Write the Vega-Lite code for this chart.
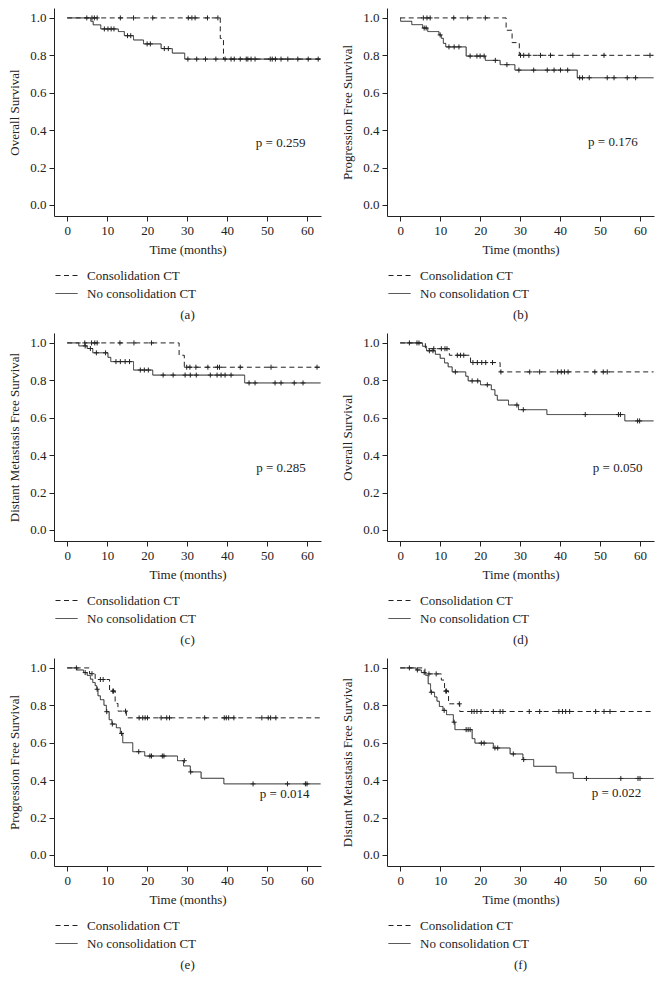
{
"$schema": "https://vega.github.io/schema/vega-lite/v6.json",
"padding": {"left": 8, "top": 8, "right": 4, "bottom": 4},
"background": "white",
"columns": 2,
"spacing": {"column": 18, "row": 11},
"resolve": {"scale": {"strokeDash": "independent"}, "legend": {"strokeDash": "independent"}},
"datasets": {
"steps": [
{"panel":"a","g":"Consolidation CT","t":0,"s":1},{"panel":"a","g":"Consolidation CT","t":38.3,"s":0.89},{"panel":"a","g":"Consolidation CT","t":39.1,"s":0.78},{"panel":"a","g":"Consolidation CT","t":63.4,"s":0.78},
{"panel":"a","g":"No consolidation CT","t":0,"s":1},{"panel":"a","g":"No consolidation CT","t":5.9,"s":0.982},{"panel":"a","g":"No consolidation CT","t":6.5,"s":0.963},{"panel":"a","g":"No consolidation CT","t":8.4,"s":0.941},{"panel":"a","g":"No consolidation CT","t":12.8,"s":0.927},{"panel":"a","g":"No consolidation CT","t":14.3,"s":0.905},{"panel":"a","g":"No consolidation CT","t":16.6,"s":0.882},{"panel":"a","g":"No consolidation CT","t":19.1,"s":0.861},{"panel":"a","g":"No consolidation CT","t":23.5,"s":0.836},{"panel":"a","g":"No consolidation CT","t":26.3,"s":0.812},{"panel":"a","g":"No consolidation CT","t":29.4,"s":0.78},{"panel":"a","g":"No consolidation CT","t":63.4,"s":0.78},
{"panel":"b","g":"Consolidation CT","t":0,"s":1},{"panel":"b","g":"Consolidation CT","t":26.5,"s":0.934},{"panel":"b","g":"Consolidation CT","t":28.0,"s":0.868},{"panel":"b","g":"Consolidation CT","t":29.8,"s":0.8},{"panel":"b","g":"Consolidation CT","t":63.4,"s":0.8},
{"panel":"b","g":"No consolidation CT","t":0,"s":1},{"panel":"b","g":"No consolidation CT","t":0.1,"s":0.982},{"panel":"b","g":"No consolidation CT","t":2.9,"s":0.964},{"panel":"b","g":"No consolidation CT","t":5.6,"s":0.946},{"panel":"b","g":"No consolidation CT","t":6.9,"s":0.927},{"panel":"b","g":"No consolidation CT","t":9.7,"s":0.909},{"panel":"b","g":"No consolidation CT","t":10.3,"s":0.891},{"panel":"b","g":"No consolidation CT","t":10.8,"s":0.864},{"panel":"b","g":"No consolidation CT","t":11.4,"s":0.845},{"panel":"b","g":"No consolidation CT","t":16.5,"s":0.796},{"panel":"b","g":"No consolidation CT","t":21.3,"s":0.773},{"panel":"b","g":"No consolidation CT","t":25.0,"s":0.75},{"panel":"b","g":"No consolidation CT","t":28.7,"s":0.721},{"panel":"b","g":"No consolidation CT","t":44.3,"s":0.68},{"panel":"b","g":"No consolidation CT","t":63.4,"s":0.68},
{"panel":"c","g":"Consolidation CT","t":0,"s":1},{"panel":"c","g":"Consolidation CT","t":28.0,"s":0.934},{"panel":"c","g":"Consolidation CT","t":29.3,"s":0.87},{"panel":"c","g":"Consolidation CT","t":63.4,"s":0.87},
{"panel":"c","g":"No consolidation CT","t":0,"s":1},{"panel":"c","g":"No consolidation CT","t":2.9,"s":0.984},{"panel":"c","g":"No consolidation CT","t":5.0,"s":0.97},{"panel":"c","g":"No consolidation CT","t":6.4,"s":0.947},{"panel":"c","g":"No consolidation CT","t":10.2,"s":0.923},{"panel":"c","g":"No consolidation CT","t":10.9,"s":0.9},{"panel":"c","g":"No consolidation CT","t":16.6,"s":0.855},{"panel":"c","g":"No consolidation CT","t":21.4,"s":0.828},{"panel":"c","g":"No consolidation CT","t":44.4,"s":0.786},{"panel":"c","g":"No consolidation CT","t":63.4,"s":0.786},
{"panel":"d","g":"Consolidation CT","t":0,"s":1},{"panel":"d","g":"Consolidation CT","t":6.3,"s":0.969},{"panel":"d","g":"Consolidation CT","t":12.3,"s":0.934},{"panel":"d","g":"Consolidation CT","t":17.6,"s":0.895},{"panel":"d","g":"Consolidation CT","t":25.0,"s":0.845},{"panel":"d","g":"Consolidation CT","t":63.4,"s":0.845},
{"panel":"d","g":"No consolidation CT","t":0,"s":1},{"panel":"d","g":"No consolidation CT","t":5.6,"s":0.982},{"panel":"d","g":"No consolidation CT","t":6.6,"s":0.958},{"panel":"d","g":"No consolidation CT","t":8.8,"s":0.939},{"panel":"d","g":"No consolidation CT","t":10.0,"s":0.918},{"panel":"d","g":"No consolidation CT","t":11.1,"s":0.893},{"panel":"d","g":"No consolidation CT","t":12.0,"s":0.872},{"panel":"d","g":"No consolidation CT","t":13.0,"s":0.845},{"panel":"d","g":"No consolidation CT","t":16.4,"s":0.822},{"panel":"d","g":"No consolidation CT","t":17.0,"s":0.797},{"panel":"d","g":"No consolidation CT","t":20.1,"s":0.776},{"panel":"d","g":"No consolidation CT","t":22.8,"s":0.75},{"panel":"d","g":"No consolidation CT","t":23.7,"s":0.72},{"panel":"d","g":"No consolidation CT","t":24.3,"s":0.694},{"panel":"d","g":"No consolidation CT","t":27.1,"s":0.668},{"panel":"d","g":"No consolidation CT","t":29.6,"s":0.643},{"panel":"d","g":"No consolidation CT","t":36.7,"s":0.617},{"panel":"d","g":"No consolidation CT","t":56.2,"s":0.583},{"panel":"d","g":"No consolidation CT","t":63.4,"s":0.583},
{"panel":"e","g":"Consolidation CT","t":0,"s":1},{"panel":"e","g":"Consolidation CT","t":5.6,"s":0.969},{"panel":"e","g":"Consolidation CT","t":7.0,"s":0.938},{"panel":"e","g":"Consolidation CT","t":10.6,"s":0.876},{"panel":"e","g":"Consolidation CT","t":12.0,"s":0.81},{"panel":"e","g":"Consolidation CT","t":12.7,"s":0.769},{"panel":"e","g":"Consolidation CT","t":14.8,"s":0.733},{"panel":"e","g":"Consolidation CT","t":63.4,"s":0.733},
{"panel":"e","g":"No consolidation CT","t":0,"s":1},{"panel":"e","g":"No consolidation CT","t":2.4,"s":0.989},{"panel":"e","g":"No consolidation CT","t":4.1,"s":0.975},{"panel":"e","g":"No consolidation CT","t":5.0,"s":0.96},{"panel":"e","g":"No consolidation CT","t":5.8,"s":0.94},{"panel":"e","g":"No consolidation CT","t":6.4,"s":0.922},{"panel":"e","g":"No consolidation CT","t":7.0,"s":0.905},{"panel":"e","g":"No consolidation CT","t":7.4,"s":0.886},{"panel":"e","g":"No consolidation CT","t":7.7,"s":0.851},{"panel":"e","g":"No consolidation CT","t":8.3,"s":0.83},{"panel":"e","g":"No consolidation CT","t":9.2,"s":0.8},{"panel":"e","g":"No consolidation CT","t":9.8,"s":0.766},{"panel":"e","g":"No consolidation CT","t":10.5,"s":0.723},{"panel":"e","g":"No consolidation CT","t":11.2,"s":0.7},{"panel":"e","g":"No consolidation CT","t":12.3,"s":0.68},{"panel":"e","g":"No consolidation CT","t":13.3,"s":0.65},{"panel":"e","g":"No consolidation CT","t":13.9,"s":0.6},{"panel":"e","g":"No consolidation CT","t":16.4,"s":0.552},{"panel":"e","g":"No consolidation CT","t":19.4,"s":0.529},{"panel":"e","g":"No consolidation CT","t":27.6,"s":0.504},{"panel":"e","g":"No consolidation CT","t":29.1,"s":0.476},{"panel":"e","g":"No consolidation CT","t":30.8,"s":0.444},{"panel":"e","g":"No consolidation CT","t":33.5,"s":0.41},{"panel":"e","g":"No consolidation CT","t":39.2,"s":0.38},{"panel":"e","g":"No consolidation CT","t":63.4,"s":0.38},
{"panel":"f","g":"Consolidation CT","t":0,"s":1},{"panel":"f","g":"Consolidation CT","t":6.2,"s":0.968},{"panel":"f","g":"Consolidation CT","t":10.3,"s":0.935},{"panel":"f","g":"Consolidation CT","t":11.1,"s":0.876},{"panel":"f","g":"Consolidation CT","t":12.1,"s":0.808},{"panel":"f","g":"Consolidation CT","t":14.9,"s":0.767},{"panel":"f","g":"Consolidation CT","t":63.4,"s":0.767},
{"panel":"f","g":"No consolidation CT","t":0,"s":1},{"panel":"f","g":"No consolidation CT","t":4.0,"s":0.989},{"panel":"f","g":"No consolidation CT","t":5.3,"s":0.975},{"panel":"f","g":"No consolidation CT","t":6.4,"s":0.96},{"panel":"f","g":"No consolidation CT","t":7.0,"s":0.915},{"panel":"f","g":"No consolidation CT","t":7.6,"s":0.87},{"panel":"f","g":"No consolidation CT","t":8.6,"s":0.845},{"panel":"f","g":"No consolidation CT","t":9.2,"s":0.822},{"panel":"f","g":"No consolidation CT","t":9.8,"s":0.794},{"panel":"f","g":"No consolidation CT","t":10.7,"s":0.773},{"panel":"f","g":"No consolidation CT","t":11.6,"s":0.75},{"panel":"f","g":"No consolidation CT","t":13.3,"s":0.71},{"panel":"f","g":"No consolidation CT","t":13.7,"s":0.67},{"panel":"f","g":"No consolidation CT","t":18.0,"s":0.622},{"panel":"f","g":"No consolidation CT","t":18.7,"s":0.598},{"panel":"f","g":"No consolidation CT","t":23.3,"s":0.572},{"panel":"f","g":"No consolidation CT","t":27.5,"s":0.54},{"panel":"f","g":"No consolidation CT","t":30.7,"s":0.51},{"panel":"f","g":"No consolidation CT","t":33.4,"s":0.474},{"panel":"f","g":"No consolidation CT","t":39.0,"s":0.439},{"panel":"f","g":"No consolidation CT","t":43.3,"s":0.409},{"panel":"f","g":"No consolidation CT","t":63.4,"s":0.409}
],
"cens": [
{"panel":"a","t":4.9,"s":1},{"panel":"a","t":6.2,"s":1},{"panel":"a","t":6.8,"s":1},{"panel":"a","t":7.5,"s":1},{"panel":"a","t":13.3,"s":1},{"panel":"a","t":16.6,"s":1},{"panel":"a","t":21.4,"s":1},{"panel":"a","t":30.3,"s":1},{"panel":"a","t":31.2,"s":1},{"panel":"a","t":32.0,"s":1},{"panel":"a","t":35.1,"s":1},{"panel":"a","t":37.7,"s":1},
{"panel":"a","t":41.0,"s":0.78},{"panel":"a","t":45.2,"s":0.78},{"panel":"a","t":50.8,"s":0.78},{"panel":"a","t":62.8,"s":0.78},
{"panel":"a","t":9.3,"s":0.941},{"panel":"a","t":10.2,"s":0.941},{"panel":"a","t":11.0,"s":0.941},{"panel":"a","t":11.7,"s":0.941},{"panel":"a","t":15.1,"s":0.905},{"panel":"a","t":15.9,"s":0.905},{"panel":"a","t":20.0,"s":0.861},{"panel":"a","t":20.8,"s":0.861},{"panel":"a","t":24.3,"s":0.836},{"panel":"a","t":25.3,"s":0.836},
{"panel":"a","t":30.2,"s":0.78},{"panel":"a","t":32.4,"s":0.78},{"panel":"a","t":34.6,"s":0.78},{"panel":"a","t":37.2,"s":0.78},{"panel":"a","t":39.5,"s":0.78},{"panel":"a","t":41.8,"s":0.78},{"panel":"a","t":43.3,"s":0.78},{"panel":"a","t":44.8,"s":0.78},{"panel":"a","t":46.0,"s":0.78},{"panel":"a","t":47.0,"s":0.78},{"panel":"a","t":51.3,"s":0.78},{"panel":"a","t":52.1,"s":0.78},{"panel":"a","t":53.5,"s":0.78},{"panel":"a","t":55.2,"s":0.78},{"panel":"a","t":57.7,"s":0.78},{"panel":"a","t":60.3,"s":0.78},
{"panel":"b","t":5.8,"s":1},{"panel":"b","t":6.7,"s":1},{"panel":"b","t":7.5,"s":1},{"panel":"b","t":13.4,"s":1},{"panel":"b","t":16.9,"s":1},{"panel":"b","t":21.3,"s":1},
{"panel":"b","t":30.1,"s":0.8},{"panel":"b","t":30.9,"s":0.8},{"panel":"b","t":32.2,"s":0.8},{"panel":"b","t":35.1,"s":0.8},{"panel":"b","t":37.6,"s":0.8},{"panel":"b","t":43.2,"s":0.8},{"panel":"b","t":51.0,"s":0.8},{"panel":"b","t":62.5,"s":0.8},
{"panel":"b","t":6.0,"s":0.946},{"panel":"b","t":6.5,"s":0.946},{"panel":"b","t":10.0,"s":0.909},{"panel":"b","t":12.2,"s":0.845},{"panel":"b","t":13.5,"s":0.845},{"panel":"b","t":14.7,"s":0.845},{"panel":"b","t":17.5,"s":0.796},{"panel":"b","t":19.2,"s":0.796},{"panel":"b","t":20.0,"s":0.796},{"panel":"b","t":21.0,"s":0.796},{"panel":"b","t":23.8,"s":0.773},{"panel":"b","t":26.7,"s":0.75},
{"panel":"b","t":29.7,"s":0.721},{"panel":"b","t":33.4,"s":0.721},{"panel":"b","t":36.8,"s":0.721},{"panel":"b","t":38.5,"s":0.721},{"panel":"b","t":40.1,"s":0.721},{"panel":"b","t":41.9,"s":0.721},
{"panel":"b","t":44.9,"s":0.68},{"panel":"b","t":45.6,"s":0.68},{"panel":"b","t":47.3,"s":0.68},{"panel":"b","t":51.8,"s":0.68},{"panel":"b","t":53.5,"s":0.68},{"panel":"b","t":56.8,"s":0.68},{"panel":"b","t":58.9,"s":0.68},
{"panel":"c","t":4.4,"s":1},{"panel":"c","t":6.1,"s":1},{"panel":"c","t":6.9,"s":1},{"panel":"c","t":7.5,"s":1},{"panel":"c","t":13.2,"s":1},{"panel":"c","t":16.7,"s":1},{"panel":"c","t":21.1,"s":1},
{"panel":"c","t":29.9,"s":0.87},{"panel":"c","t":30.7,"s":0.87},{"panel":"c","t":32.2,"s":0.87},{"panel":"c","t":35.2,"s":0.87},{"panel":"c","t":37.6,"s":0.87},{"panel":"c","t":38.1,"s":0.87},{"panel":"c","t":43.3,"s":0.87},{"panel":"c","t":51.0,"s":0.87},{"panel":"c","t":62.5,"s":0.87},
{"panel":"c","t":4.5,"s":0.984},{"panel":"c","t":5.8,"s":0.97},{"panel":"c","t":7.3,"s":0.947},{"panel":"c","t":9.6,"s":0.947},{"panel":"c","t":12.2,"s":0.9},{"panel":"c","t":13.3,"s":0.9},{"panel":"c","t":14.5,"s":0.9},{"panel":"c","t":15.6,"s":0.9},{"panel":"c","t":18.3,"s":0.855},{"panel":"c","t":19.3,"s":0.855},{"panel":"c","t":20.3,"s":0.855},
{"panel":"c","t":24.0,"s":0.828},{"panel":"c","t":26.5,"s":0.828},{"panel":"c","t":29.5,"s":0.828},{"panel":"c","t":30.8,"s":0.828},{"panel":"c","t":32.3,"s":0.828},{"panel":"c","t":35.8,"s":0.828},{"panel":"c","t":37.5,"s":0.828},{"panel":"c","t":38.5,"s":0.828},{"panel":"c","t":39.5,"s":0.828},{"panel":"c","t":41.0,"s":0.828},
{"panel":"c","t":45.5,"s":0.786},{"panel":"c","t":47.0,"s":0.786},{"panel":"c","t":52.0,"s":0.786},{"panel":"c","t":53.5,"s":0.786},{"panel":"c","t":56.8,"s":0.786},{"panel":"c","t":59.0,"s":0.786},
{"panel":"d","t":8.4,"s":0.969},{"panel":"d","t":10.3,"s":0.969},{"panel":"d","t":11.2,"s":0.969},{"panel":"d","t":11.7,"s":0.969},{"panel":"d","t":14.3,"s":0.934},{"panel":"d","t":15.1,"s":0.934},{"panel":"d","t":15.9,"s":0.934},
{"panel":"d","t":18.2,"s":0.895},{"panel":"d","t":19.3,"s":0.895},{"panel":"d","t":20.4,"s":0.895},{"panel":"d","t":21.4,"s":0.895},{"panel":"d","t":23.1,"s":0.895},
{"panel":"d","t":25.2,"s":0.845},{"panel":"d","t":32.4,"s":0.845},{"panel":"d","t":34.9,"s":0.845},{"panel":"d","t":39.4,"s":0.845},{"panel":"d","t":40.3,"s":0.845},{"panel":"d","t":41.1,"s":0.845},{"panel":"d","t":42.0,"s":0.845},{"panel":"d","t":48.7,"s":0.845},{"panel":"d","t":50.8,"s":0.845},{"panel":"d","t":51.8,"s":0.845},
{"panel":"d","t":2.3,"s":1},{"panel":"d","t":4.2,"s":1},{"panel":"d","t":4.7,"s":1},{"panel":"d","t":7.3,"s":0.958},{"panel":"d","t":8.2,"s":0.958},{"panel":"d","t":13.8,"s":0.845},{"panel":"d","t":18.0,"s":0.797},{"panel":"d","t":19.4,"s":0.797},{"panel":"d","t":21.8,"s":0.776},{"panel":"d","t":29.2,"s":0.668},{"panel":"d","t":30.8,"s":0.643},{"panel":"d","t":46.3,"s":0.617},{"panel":"d","t":54.6,"s":0.617},{"panel":"d","t":55.1,"s":0.617},{"panel":"d","t":59.4,"s":0.583},{"panel":"d","t":59.9,"s":0.583},
{"panel":"e","t":6.2,"s":0.969},{"panel":"e","t":8.3,"s":0.938},{"panel":"e","t":9.0,"s":0.938},{"panel":"e","t":11.4,"s":0.876},{"panel":"e","t":11.6,"s":0.876},{"panel":"e","t":14.6,"s":0.769},
{"panel":"e","t":18.0,"s":0.733},{"panel":"e","t":18.9,"s":0.733},{"panel":"e","t":19.5,"s":0.733},{"panel":"e","t":20.1,"s":0.733},{"panel":"e","t":23.5,"s":0.733},{"panel":"e","t":24.9,"s":0.733},{"panel":"e","t":25.6,"s":0.733},{"panel":"e","t":34.4,"s":0.733},{"panel":"e","t":39.3,"s":0.733},{"panel":"e","t":39.8,"s":0.733},{"panel":"e","t":40.4,"s":0.733},{"panel":"e","t":41.7,"s":0.733},{"panel":"e","t":48.7,"s":0.733},{"panel":"e","t":50.3,"s":0.733},{"panel":"e","t":50.9,"s":0.733},{"panel":"e","t":52.2,"s":0.733},
{"panel":"e","t":2.3,"s":1},{"panel":"e","t":4.5,"s":0.975},{"panel":"e","t":7.5,"s":0.886},{"panel":"e","t":9.9,"s":0.766},{"panel":"e","t":11.3,"s":0.7},{"panel":"e","t":13.6,"s":0.65},{"panel":"e","t":17.9,"s":0.552},{"panel":"e","t":20.7,"s":0.529},{"panel":"e","t":21.1,"s":0.529},{"panel":"e","t":23.8,"s":0.529},{"panel":"e","t":24.2,"s":0.529},{"panel":"e","t":29.3,"s":0.504},{"panel":"e","t":30.9,"s":0.444},{"panel":"e","t":46.5,"s":0.38},{"panel":"e","t":55.1,"s":0.38},{"panel":"e","t":59.6,"s":0.38},{"panel":"e","t":60.0,"s":0.38},
{"panel":"f","t":7.2,"s":0.968},{"panel":"f","t":9.0,"s":0.968},{"panel":"f","t":11.4,"s":0.876},{"panel":"f","t":11.6,"s":0.876},{"panel":"f","t":14.8,"s":0.808},
{"panel":"f","t":17.9,"s":0.767},{"panel":"f","t":18.5,"s":0.767},{"panel":"f","t":19.2,"s":0.767},{"panel":"f","t":20.2,"s":0.767},{"panel":"f","t":23.3,"s":0.767},{"panel":"f","t":25.0,"s":0.767},{"panel":"f","t":25.7,"s":0.767},{"panel":"f","t":32.3,"s":0.767},{"panel":"f","t":34.9,"s":0.767},{"panel":"f","t":39.7,"s":0.767},{"panel":"f","t":40.6,"s":0.767},{"panel":"f","t":41.4,"s":0.767},{"panel":"f","t":42.4,"s":0.767},{"panel":"f","t":48.9,"s":0.767},{"panel":"f","t":51.0,"s":0.767},{"panel":"f","t":52.5,"s":0.767},
{"panel":"f","t":2.3,"s":1},{"panel":"f","t":4.3,"s":0.989},{"panel":"f","t":6.0,"s":0.975},{"panel":"f","t":7.8,"s":0.87},{"panel":"f","t":11.0,"s":0.773},{"panel":"f","t":13.5,"s":0.71},{"panel":"f","t":16.5,"s":0.67},{"panel":"f","t":17.0,"s":0.67},{"panel":"f","t":17.5,"s":0.67},{"panel":"f","t":20.3,"s":0.598},{"panel":"f","t":21.0,"s":0.598},{"panel":"f","t":23.7,"s":0.572},{"panel":"f","t":24.4,"s":0.572},{"panel":"f","t":28.3,"s":0.54},{"panel":"f","t":30.9,"s":0.51},{"panel":"f","t":46.6,"s":0.409},{"panel":"f","t":55.2,"s":0.409},{"panel":"f","t":59.5,"s":0.409},{"panel":"f","t":60.0,"s":0.409}
],
"pv": [
{"panel":"a","label":"p = 0.259","t":47.2,"s":0.33},
{"panel":"b","label":"p = 0.176","t":47.0,"s":0.334},
{"panel":"c","label":"p = 0.285","t":47.3,"s":0.332},
{"panel":"d","label":"p = 0.050","t":48.2,"s":0.332},
{"panel":"e","label":"p = 0.014","t":48.2,"s":0.325},
{"panel":"f","label":"p = 0.022","t":47.9,"s":0.329}
]
},
"concat": [
{"width": 267, "height": 208,
 "title": {"text": "(a)", "orient": "bottom", "frame": "group", "anchor": "middle", "offset": 8, "baseline": "top", "fontSize": 13, "font": "Liberation Serif", "fontWeight": "normal", "color": "#222"},
 "layer": [
  {"data": {"name": "steps"}, "transform": [{"filter": "datum.panel == 'a'"}],
   "mark": {"type": "line", "interpolate": "step-after", "strokeWidth": 1, "color": "#222"},
   "encoding": {
    "x": {"field": "t", "type": "quantitative", "title": "Time (months)", "scale": {"domain": [-3.3, 63.5], "nice": false, "zero": false}, "axis": {"values": [0,10,20,30,40,50,60]}},
    "y": {"field": "s", "type": "quantitative", "title": "Overall Survival", "scale": {"domain": [-0.059, 1.053], "nice": false, "zero": false}, "axis": {"values": [0,0.2,0.4,0.6,0.8,1], "format": ".1f"}},
    "strokeDash": {"field": "g", "type": "nominal", "scale": {"domain": ["Consolidation CT", "No consolidation CT"], "range": [[5,3.5],[1,0]]},
      "legend": {"orient": "none", "legendX": 6, "legendY": 261, "title": null, "direction": "vertical", "symbolType": "M-2,0H2", "symbolSize": 121, "symbolStrokeColor": "#222", "symbolStrokeWidth": 1, "symbolFillColor": "transparent", "labelFont": "Liberation Serif", "labelFontSize": 13, "labelColor": "#222", "labelOffset": 14, "rowPadding": 4, "padding": 0, "labelLimit": 300}}
   }},
  {"data": {"name": "cens"}, "transform": [{"filter": "datum.panel == 'a'"}],
   "mark": {"type": "point", "shape": "M-1,0H1M0,-1V1", "size": 25, "strokeWidth": 1, "color": "#222", "filled": false, "opacity": 1},
   "encoding": {"x": {"field": "t", "type": "quantitative", "title": "Time (months)"}, "y": {"field": "s", "type": "quantitative", "title": "Overall Survival"}}},
  {"data": {"name": "pv"}, "transform": [{"filter": "datum.panel == 'a'"}],
   "mark": {"type": "text", "align": "left", "baseline": "middle", "font": "Liberation Serif", "fontSize": 13, "color": "#222"},
   "encoding": {"x": {"field": "t", "type": "quantitative", "title": "Time (months)"}, "y": {"field": "s", "type": "quantitative", "title": "Overall Survival"}, "text": {"field": "label"}}}
 ]},
{"width": 267, "height": 208,
 "title": {"text": "(b)", "orient": "bottom", "frame": "group", "anchor": "middle", "offset": 8, "baseline": "top", "fontSize": 13, "font": "Liberation Serif", "fontWeight": "normal", "color": "#222"},
 "layer": [
  {"data": {"name": "steps"}, "transform": [{"filter": "datum.panel == 'b'"}],
   "mark": {"type": "line", "interpolate": "step-after", "strokeWidth": 1, "color": "#222"},
   "encoding": {
    "x": {"field": "t", "type": "quantitative", "title": "Time (months)", "scale": {"domain": [-3.3, 63.5], "nice": false, "zero": false}, "axis": {"values": [0,10,20,30,40,50,60]}},
    "y": {"field": "s", "type": "quantitative", "title": "Progression Free Survival", "scale": {"domain": [-0.059, 1.053], "nice": false, "zero": false}, "axis": {"values": [0,0.2,0.4,0.6,0.8,1], "format": ".1f"}},
    "strokeDash": {"field": "g", "type": "nominal", "scale": {"domain": ["Consolidation CT", "No consolidation CT"], "range": [[5,3.5],[1,0]]},
      "legend": {"orient": "none", "legendX": 6, "legendY": 261, "title": null, "direction": "vertical", "symbolType": "M-2,0H2", "symbolSize": 121, "symbolStrokeColor": "#222", "symbolStrokeWidth": 1, "symbolFillColor": "transparent", "labelFont": "Liberation Serif", "labelFontSize": 13, "labelColor": "#222", "labelOffset": 14, "rowPadding": 4, "padding": 0, "labelLimit": 300}}
   }},
  {"data": {"name": "cens"}, "transform": [{"filter": "datum.panel == 'b'"}],
   "mark": {"type": "point", "shape": "M-1,0H1M0,-1V1", "size": 25, "strokeWidth": 1, "color": "#222", "filled": false, "opacity": 1},
   "encoding": {"x": {"field": "t", "type": "quantitative", "title": "Time (months)"}, "y": {"field": "s", "type": "quantitative", "title": "Progression Free Survival"}}},
  {"data": {"name": "pv"}, "transform": [{"filter": "datum.panel == 'b'"}],
   "mark": {"type": "text", "align": "left", "baseline": "middle", "font": "Liberation Serif", "fontSize": 13, "color": "#222"},
   "encoding": {"x": {"field": "t", "type": "quantitative", "title": "Time (months)"}, "y": {"field": "s", "type": "quantitative", "title": "Progression Free Survival"}, "text": {"field": "label"}}}
 ]},
{"width": 267, "height": 208,
 "title": {"text": "(c)", "orient": "bottom", "frame": "group", "anchor": "middle", "offset": 8, "baseline": "top", "fontSize": 13, "font": "Liberation Serif", "fontWeight": "normal", "color": "#222"},
 "layer": [
  {"data": {"name": "steps"}, "transform": [{"filter": "datum.panel == 'c'"}],
   "mark": {"type": "line", "interpolate": "step-after", "strokeWidth": 1, "color": "#222"},
   "encoding": {
    "x": {"field": "t", "type": "quantitative", "title": "Time (months)", "scale": {"domain": [-3.3, 63.5], "nice": false, "zero": false}, "axis": {"values": [0,10,20,30,40,50,60]}},
    "y": {"field": "s", "type": "quantitative", "title": "Distant Metastasis Free Survival", "scale": {"domain": [-0.059, 1.053], "nice": false, "zero": false}, "axis": {"values": [0,0.2,0.4,0.6,0.8,1], "format": ".1f"}},
    "strokeDash": {"field": "g", "type": "nominal", "scale": {"domain": ["Consolidation CT", "No consolidation CT"], "range": [[5,3.5],[1,0]]},
      "legend": {"orient": "none", "legendX": 6, "legendY": 261, "title": null, "direction": "vertical", "symbolType": "M-2,0H2", "symbolSize": 121, "symbolStrokeColor": "#222", "symbolStrokeWidth": 1, "symbolFillColor": "transparent", "labelFont": "Liberation Serif", "labelFontSize": 13, "labelColor": "#222", "labelOffset": 14, "rowPadding": 4, "padding": 0, "labelLimit": 300}}
   }},
  {"data": {"name": "cens"}, "transform": [{"filter": "datum.panel == 'c'"}],
   "mark": {"type": "point", "shape": "M-1,0H1M0,-1V1", "size": 25, "strokeWidth": 1, "color": "#222", "filled": false, "opacity": 1},
   "encoding": {"x": {"field": "t", "type": "quantitative", "title": "Time (months)"}, "y": {"field": "s", "type": "quantitative", "title": "Distant Metastasis Free Survival"}}},
  {"data": {"name": "pv"}, "transform": [{"filter": "datum.panel == 'c'"}],
   "mark": {"type": "text", "align": "left", "baseline": "middle", "font": "Liberation Serif", "fontSize": 13, "color": "#222"},
   "encoding": {"x": {"field": "t", "type": "quantitative", "title": "Time (months)"}, "y": {"field": "s", "type": "quantitative", "title": "Distant Metastasis Free Survival"}, "text": {"field": "label"}}}
 ]},
{"width": 267, "height": 208,
 "title": {"text": "(d)", "orient": "bottom", "frame": "group", "anchor": "middle", "offset": 8, "baseline": "top", "fontSize": 13, "font": "Liberation Serif", "fontWeight": "normal", "color": "#222"},
 "layer": [
  {"data": {"name": "steps"}, "transform": [{"filter": "datum.panel == 'd'"}],
   "mark": {"type": "line", "interpolate": "step-after", "strokeWidth": 1, "color": "#222"},
   "encoding": {
    "x": {"field": "t", "type": "quantitative", "title": "Time (months)", "scale": {"domain": [-3.3, 63.5], "nice": false, "zero": false}, "axis": {"values": [0,10,20,30,40,50,60]}},
    "y": {"field": "s", "type": "quantitative", "title": "Overall Survival", "scale": {"domain": [-0.059, 1.053], "nice": false, "zero": false}, "axis": {"values": [0,0.2,0.4,0.6,0.8,1], "format": ".1f"}},
    "strokeDash": {"field": "g", "type": "nominal", "scale": {"domain": ["Consolidation CT", "No consolidation CT"], "range": [[5,3.5],[1,0]]},
      "legend": {"orient": "none", "legendX": 6, "legendY": 261, "title": null, "direction": "vertical", "symbolType": "M-2,0H2", "symbolSize": 121, "symbolStrokeColor": "#222", "symbolStrokeWidth": 1, "symbolFillColor": "transparent", "labelFont": "Liberation Serif", "labelFontSize": 13, "labelColor": "#222", "labelOffset": 14, "rowPadding": 4, "padding": 0, "labelLimit": 300}}
   }},
  {"data": {"name": "cens"}, "transform": [{"filter": "datum.panel == 'd'"}],
   "mark": {"type": "point", "shape": "M-1,0H1M0,-1V1", "size": 25, "strokeWidth": 1, "color": "#222", "filled": false, "opacity": 1},
   "encoding": {"x": {"field": "t", "type": "quantitative", "title": "Time (months)"}, "y": {"field": "s", "type": "quantitative", "title": "Overall Survival"}}},
  {"data": {"name": "pv"}, "transform": [{"filter": "datum.panel == 'd'"}],
   "mark": {"type": "text", "align": "left", "baseline": "middle", "font": "Liberation Serif", "fontSize": 13, "color": "#222"},
   "encoding": {"x": {"field": "t", "type": "quantitative", "title": "Time (months)"}, "y": {"field": "s", "type": "quantitative", "title": "Overall Survival"}, "text": {"field": "label"}}}
 ]},
{"width": 267, "height": 208,
 "title": {"text": "(e)", "orient": "bottom", "frame": "group", "anchor": "middle", "offset": 8, "baseline": "top", "fontSize": 13, "font": "Liberation Serif", "fontWeight": "normal", "color": "#222"},
 "layer": [
  {"data": {"name": "steps"}, "transform": [{"filter": "datum.panel == 'e'"}],
   "mark": {"type": "line", "interpolate": "step-after", "strokeWidth": 1, "color": "#222"},
   "encoding": {
    "x": {"field": "t", "type": "quantitative", "title": "Time (months)", "scale": {"domain": [-3.3, 63.5], "nice": false, "zero": false}, "axis": {"values": [0,10,20,30,40,50,60]}},
    "y": {"field": "s", "type": "quantitative", "title": "Progression Free Survival", "scale": {"domain": [-0.059, 1.053], "nice": false, "zero": false}, "axis": {"values": [0,0.2,0.4,0.6,0.8,1], "format": ".1f"}},
    "strokeDash": {"field": "g", "type": "nominal", "scale": {"domain": ["Consolidation CT", "No consolidation CT"], "range": [[5,3.5],[1,0]]},
      "legend": {"orient": "none", "legendX": 6, "legendY": 261, "title": null, "direction": "vertical", "symbolType": "M-2,0H2", "symbolSize": 121, "symbolStrokeColor": "#222", "symbolStrokeWidth": 1, "symbolFillColor": "transparent", "labelFont": "Liberation Serif", "labelFontSize": 13, "labelColor": "#222", "labelOffset": 14, "rowPadding": 4, "padding": 0, "labelLimit": 300}}
   }},
  {"data": {"name": "cens"}, "transform": [{"filter": "datum.panel == 'e'"}],
   "mark": {"type": "point", "shape": "M-1,0H1M0,-1V1", "size": 25, "strokeWidth": 1, "color": "#222", "filled": false, "opacity": 1},
   "encoding": {"x": {"field": "t", "type": "quantitative", "title": "Time (months)"}, "y": {"field": "s", "type": "quantitative", "title": "Progression Free Survival"}}},
  {"data": {"name": "pv"}, "transform": [{"filter": "datum.panel == 'e'"}],
   "mark": {"type": "text", "align": "left", "baseline": "middle", "font": "Liberation Serif", "fontSize": 13, "color": "#222"},
   "encoding": {"x": {"field": "t", "type": "quantitative", "title": "Time (months)"}, "y": {"field": "s", "type": "quantitative", "title": "Progression Free Survival"}, "text": {"field": "label"}}}
 ]},
{"width": 267, "height": 208,
 "title": {"text": "(f)", "orient": "bottom", "frame": "group", "anchor": "middle", "offset": 8, "baseline": "top", "fontSize": 13, "font": "Liberation Serif", "fontWeight": "normal", "color": "#222"},
 "layer": [
  {"data": {"name": "steps"}, "transform": [{"filter": "datum.panel == 'f'"}],
   "mark": {"type": "line", "interpolate": "step-after", "strokeWidth": 1, "color": "#222"},
   "encoding": {
    "x": {"field": "t", "type": "quantitative", "title": "Time (months)", "scale": {"domain": [-3.3, 63.5], "nice": false, "zero": false}, "axis": {"values": [0,10,20,30,40,50,60]}},
    "y": {"field": "s", "type": "quantitative", "title": "Distant Metastasis Free Survival", "scale": {"domain": [-0.059, 1.053], "nice": false, "zero": false}, "axis": {"values": [0,0.2,0.4,0.6,0.8,1], "format": ".1f"}},
    "strokeDash": {"field": "g", "type": "nominal", "scale": {"domain": ["Consolidation CT", "No consolidation CT"], "range": [[5,3.5],[1,0]]},
      "legend": {"orient": "none", "legendX": 6, "legendY": 261, "title": null, "direction": "vertical", "symbolType": "M-2,0H2", "symbolSize": 121, "symbolStrokeColor": "#222", "symbolStrokeWidth": 1, "symbolFillColor": "transparent", "labelFont": "Liberation Serif", "labelFontSize": 13, "labelColor": "#222", "labelOffset": 14, "rowPadding": 4, "padding": 0, "labelLimit": 300}}
   }},
  {"data": {"name": "cens"}, "transform": [{"filter": "datum.panel == 'f'"}],
   "mark": {"type": "point", "shape": "M-1,0H1M0,-1V1", "size": 25, "strokeWidth": 1, "color": "#222", "filled": false, "opacity": 1},
   "encoding": {"x": {"field": "t", "type": "quantitative", "title": "Time (months)"}, "y": {"field": "s", "type": "quantitative", "title": "Distant Metastasis Free Survival"}}},
  {"data": {"name": "pv"}, "transform": [{"filter": "datum.panel == 'f'"}],
   "mark": {"type": "text", "align": "left", "baseline": "middle", "font": "Liberation Serif", "fontSize": 13, "color": "#222"},
   "encoding": {"x": {"field": "t", "type": "quantitative", "title": "Time (months)"}, "y": {"field": "s", "type": "quantitative", "title": "Distant Metastasis Free Survival"}, "text": {"field": "label"}}}
 ]}
],
"config": {
 "font": "Liberation Serif",
 "view": {"stroke": null},
 "axis": {"labelFont": "Liberation Serif", "titleFont": "Liberation Serif", "labelFontSize": 13, "titleFontSize": 13, "titleFontWeight": "normal", "grid": false, "tickSize": 5, "domainColor": "#222", "tickColor": "#222", "labelColor": "#222", "titleColor": "#222", "labelPadding": 3},
 "axisX": {"titlePadding": 6},
 "axisY": {"titlePadding": 8}
}
}
